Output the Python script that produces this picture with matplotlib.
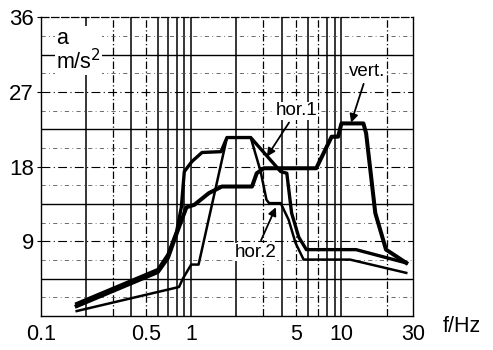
import numpy as np
import matplotlib
matplotlib.use('Agg')
import matplotlib.pyplot as plt

plt.rcParams['font.family'] = ['Liberation Sans', 'DejaVu Sans']

# frequency / acceleration curves
vert_f = [0.173, 0.6, 0.7, 0.81, 0.93, 1.05, 1.31, 1.6, 2.54, 2.73, 3.05, 6.8, 8.6, 9.5, 10.0, 14.0, 14.6, 16.8, 19.8, 27.0]
vert_a = [1.2, 5.3, 7.0, 10.2, 13.1, 13.4, 14.8, 15.6, 15.6, 17.2, 17.8, 17.8, 21.6, 21.6, 23.2, 23.2, 22.0, 12.4, 8.0, 6.4]

hor1_f = [0.173, 0.6, 0.7, 0.8, 0.86, 0.9, 1.01, 1.18, 1.58, 1.73, 2.49, 3.94, 4.33, 4.66, 5.2, 5.84, 12.5, 27.0]
hor1_a = [1.5, 5.6, 7.4, 10.2, 13.1, 17.4, 18.6, 19.7, 19.8, 21.5, 21.5, 17.4, 17.2, 12.4, 9.5, 8.0, 8.0, 6.4]

hor2_f = [0.173, 0.83, 0.88, 1.0, 1.12, 1.73, 2.49, 2.9, 3.17, 3.3, 3.94, 4.45, 4.95, 5.6, 11.4, 27.0]
hor2_a = [0.6, 3.5, 4.5, 6.2, 6.2, 21.5, 21.5, 17.4, 14.0, 13.6, 13.6, 11.6, 8.8, 6.8, 6.8, 5.2]

xticks = [0.1, 0.5, 1, 5, 10, 30]
xticklabels = ['0.1', '0.5', '1', '5', '10', '30']
yticks = [9, 18, 27, 36]

fig = plt.figure(figsize=(4.93, 3.5), dpi=100)
ax = fig.add_axes([0.083, 0.097, 0.755, 0.854])
ax.set_xscale('log')
ax.set_xlim(0.1, 30)
ax.set_ylim(0, 36)

# grid: vertical lines at every log subdivision, mixed solid / dashed
solid_v = [0.2, 0.4, 0.6, 0.7, 0.8, 0.9, 1, 2, 4, 6, 8, 9, 10]
dashed_v = [0.3, 0.5, 3, 5, 7, 20]
for v in solid_v:
    ax.axvline(v, color='black', lw=1.1, zorder=1)
for v in dashed_v:
    ax.axvline(v, color='black', lw=0.9, ls=(0, (6, 2, 1, 2)), zorder=1)

for h in [4.5, 13.5, 22.5, 31.5]:
    ax.axhline(h, color='black', lw=1.0, zorder=1)
for h in [9, 18, 27]:
    ax.axhline(h, color='black', lw=0.8, ls=(0, (8, 3, 1, 3)), zorder=1)
for h in [2.25, 6.75, 11.25, 15.75, 20.25, 24.75, 29.25, 33.75]:
    ax.axhline(h, color='#555555', lw=0.6, ls=(0, (5, 4, 1, 4)), zorder=1)

ax.plot(hor2_f, hor2_a, color='black', lw=1.8, zorder=3)
ax.plot(hor1_f, hor1_a, color='black', lw=2.4, zorder=3)
ax.plot(vert_f, vert_a, color='black', lw=2.9, zorder=4)

ax.set_xticks(xticks)
ax.set_xticklabels(xticklabels)
ax.xaxis.set_minor_locator(matplotlib.ticker.NullLocator())
ax.set_yticks(yticks)
ax.tick_params(axis='x', length=0, labelsize=15.5, pad=6)
ax.tick_params(axis='y', length=3, labelsize=16, pad=2)

for s in ['left', 'bottom', 'right']:
    ax.spines[s].set_linewidth(1.0)
ax.spines['top'].set_linestyle((0, (6, 2)))
ax.spines['top'].set_linewidth(0.9)

ax.text(0.04, 0.965, 'a\nm/s$^2$', transform=ax.transAxes, ha='left', va='top',
        fontsize=15.5, linespacing=1.0, zorder=5,
        bbox=dict(facecolor='white', edgecolor='none', pad=1))
fig.text(0.898, 0.066, 'f/Hz', fontsize=15.5, ha='left', va='center')

arrow = dict(arrowstyle='-|>', color='black', lw=1.3, mutation_scale=12, shrinkA=2, shrinkB=0)
box = dict(facecolor='white', edgecolor='none', pad=0.5)
ax.annotate('vert.', xy=(11.6, 23.3), xytext=(14.9, 29.4), fontsize=13.5,
            ha='center', va='center', arrowprops=arrow, bbox=box, zorder=6)
ax.annotate('hor.1', xy=(3.19, 19.2), xytext=(5.03, 24.7), fontsize=13.5,
            ha='center', va='center', arrowprops=arrow, bbox=box, zorder=6)
ax.annotate('hor.2', xy=(3.66, 13.1), xytext=(2.69, 7.7), fontsize=13.5,
            ha='center', va='center', arrowprops=arrow, bbox=box, zorder=6)

fig.savefig('out.png', dpi=100)
